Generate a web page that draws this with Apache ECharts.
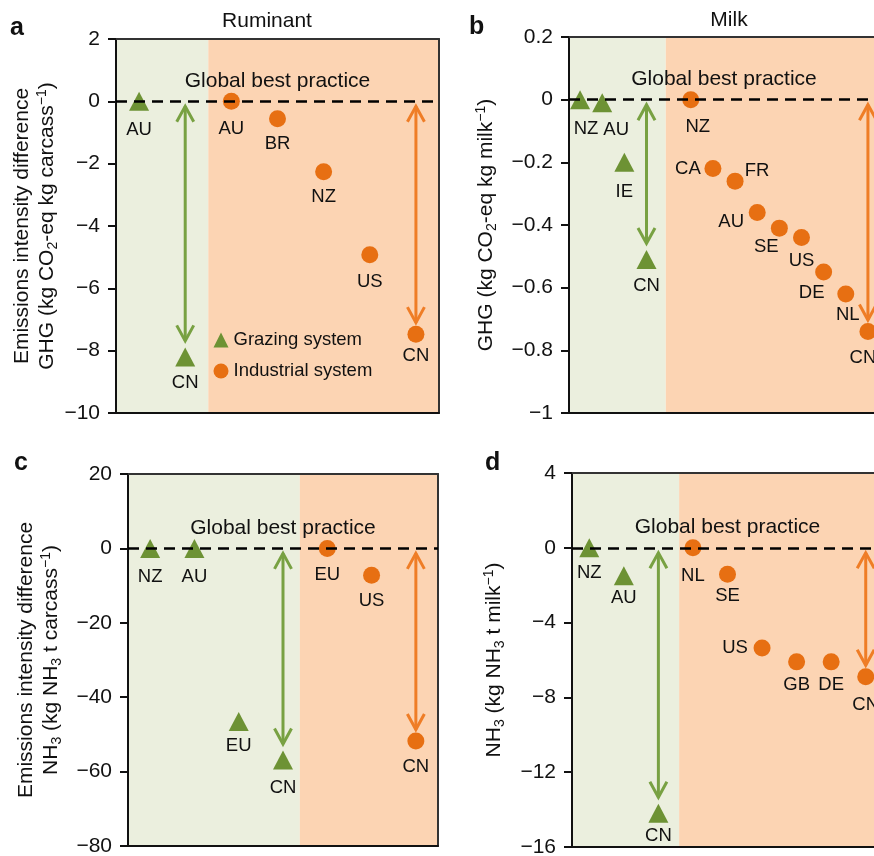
<!DOCTYPE html>
<html>
<head>
<meta charset="utf-8">
<script src="https://cdn.jsdelivr.net/npm/echarts@6/dist/echarts.min.js"></script>
<style>html,body{margin:0;padding:0;background:#fff;}#chart{width:874px;height:856px;}</style>
</head>
<body>
<div id="chart"></div>
<script>
// ---------- DATA ----------
// a  Ruminant, GHG (kg CO2-eq kg carcass-1)
const rumGhgTicks = [2, 0, -2, -4, -6, -8, -10];
const rumGhgGrazCountries = ['AU', 'CN'];
const rumGhgGrazValues = [0, -8.2];
const rumGhgIndCountries = ['AU', 'BR', 'NZ', 'US', 'CN'];
const rumGhgIndValues = [0, -0.56, -2.26, -4.92, -7.47];
// b  Milk, GHG (kg CO2-eq kg milk-1)
const milkGhgTicks = [0.2, 0, -0.2, -0.4, -0.6, -0.8, -1];
const milkGhgGrazCountries = ['NZ', 'AU', 'IE', 'CN'];
const milkGhgGrazValues = [0, -0.01, -0.2, -0.51];
const milkGhgIndCountries = ['NZ', 'CA', 'FR', 'AU', 'SE', 'US', 'DE', 'NL', 'CN'];
const milkGhgIndValues = [0, -0.22, -0.26, -0.36, -0.41, -0.44, -0.55, -0.62, -0.74];
// c  Ruminant, NH3 (kg NH3 t carcass-1)
const rumNh3Ticks = [20, 0, -20, -40, -60, -80];
const rumNh3GrazCountries = ['NZ', 'AU', 'EU', 'CN'];
const rumNh3GrazValues = [0, 0, -46.5, -56.9];
const rumNh3IndCountries = ['EU', 'US', 'CN'];
const rumNh3IndValues = [0, -7.2, -51.8];
// d  Milk, NH3 (kg NH3 t milk-1)
const milkNh3Ticks = [4, 0, -4, -8, -12, -16];
const milkNh3GrazCountries = ['NZ', 'AU', 'CN'];
const milkNh3GrazValues = [0, -1.5, -14.2];
const milkNh3IndCountries = ['NL', 'SE', 'US', 'GB', 'DE', 'CN'];
const milkNh3IndValues = [0, -1.42, -5.36, -6.1, -6.1, -6.9];

const legendNames = ['Grazing system', 'Industrial system'];
const refLineText = 'Global best practice';

// ---------- LAYOUT / STYLE ----------
const FONT = '"Liberation Sans", Arial, Helvetica, sans-serif';
const GREEN = '#6d9234', ORANGE = '#e76f12';
const GREEN_ARROW = '#78a142', ORANGE_ARROW = '#ef7d26';
const GREEN_BG = '#ebefde', ORANGE_BG = '#fcd4b3';
const INK = '#111';

const panels = [
  { grid: { left: 116, top: 39, width: 323, height: 374 }, ticks: rumGhgTicks,
    gc: rumGhgGrazCountries, gv: rumGhgGrazValues, ic: rumGhgIndCountries, iv: rumGhgIndValues,
    slots: 7, gap: 0, boundary: 1.5, nameGap: 56,
    name: '{n|Emissions intensity difference}\n{n|GHG (kg CO}{sub|2}{n|-eq kg carcass}{sup|\u22121}{n|)}',
    gOff: [[0, 29], [0, 26]], iOff: [[0, 28], [0, 25], [0, 25], [0, 27], [0, 22]] },
  { grid: { left: 569, top: 37, width: 310, height: 376 }, ticks: milkGhgTicks,
    gc: milkGhgGrazCountries, gv: milkGhgGrazValues, ic: milkGhgIndCountries, iv: milkGhgIndValues,
    slots: 14, gap: 1, boundary: 3.87, nameGap: 70,
    name: '{n|GHG (kg CO}{sub|2}{n|-eq kg milk}{sup|\u22121}{n|)}',
    gOff: [[6, 29], [14, 27], [0, 30], [0, 26]],
    iOff: [[7, 27], [-25, 0], [22, -10], [-26, 9], [-13, 19], [0, 23], [-12, 21], [2, 21], [-5, 26]] },
  { grid: { left: 128, top: 474, width: 310, height: 372 }, ticks: rumNh3Ticks,
    gc: rumNh3GrazCountries, gv: rumNh3GrazValues, ic: rumNh3IndCountries, iv: rumNh3IndValues,
    slots: 7, gap: 0, boundary: 3.38, nameGap: 64,
    name: '{n|Emissions intensity difference}\n{n|NH}{sub|3}{n| (kg NH}{sub|3}{n| t carcass}{sup|\u22121}{n|)}',
    gOff: [[0, 29], [0, 29], [0, 25], [0, 28]], iOff: [[0, 27], [0, 26], [0, 26]] },
  { grid: { left: 572, top: 473, width: 311, height: 374 }, ticks: milkNh3Ticks,
    gc: milkNh3GrazCountries, gv: milkNh3GrazValues, ic: milkNh3IndCountries, iv: milkNh3IndValues,
    slots: 9, gap: 0, boundary: 2.6, nameGap: 65,
    name: '{n|NH}{sub|3}{n| (kg NH}{sub|3}{n| t milk}{sup|\u22121}{n|)}',
    gOff: [[0, 25], [0, 22], [0, 23]], iOff: [[0, 28], [0, 22], [-27, 0], [0, 23], [0, 23], [0, 28]] }
];

function fmtTick(v) {
  let s = String(Number(v.toFixed(2)));
  if (v < 0) s = '\u2212' + s.replace('-', '');
  return s;
}

function arrowRender(color, inset) {
  return function (params, api) {
    const x = api.value(0);
    const p0 = api.coord([x, api.value(1)]);
    const p1 = api.coord([x, api.value(2)]);
    const cx = p0[0], top = p0[1] + 5, bot = p1[1] - inset;
    const ax = 8.5, ay = 15.5;
    const st = { stroke: color, lineWidth: 3, fill: null, lineJoin: 'miter' };
    return { type: 'group', children: [
      { type: 'line', shape: { x1: cx, y1: top, x2: cx, y2: bot }, style: st },
      { type: 'polyline', shape: { points: [[cx - ax, top + ay], [cx, top], [cx + ax, top + ay]] }, style: st },
      { type: 'polyline', shape: { points: [[cx - ax, bot - ay], [cx, bot], [cx + ax, bot - ay]] }, style: st }
    ] };
  };
}

const grids = [], xAxes = [], yAxes = [], series = [];
panels.forEach((p, i) => {
  grids.push(Object.assign({ containLabel: false, outerBoundsMode: 'none' }, p.grid));
  const xmin = -0.5, xmax = p.slots - 0.5;
  const tmin = Math.min(...p.ticks), tmax = Math.max(...p.ticks);
  const interval = p.ticks[0] - p.ticks[1];
  const xBase = { gridIndex: i, type: 'value', min: xmin, max: xmax, axisTick: { show: false },
    axisLabel: { show: false }, splitLine: { show: false }, z: 6 };
  xAxes.push(Object.assign({}, xBase, { position: 'bottom', axisLine: { show: true, onZero: false, lineStyle: { color: INK, width: 2 } } }));
  xAxes.push(Object.assign({}, xBase, { position: 'top', axisLine: { show: true, onZero: false, lineStyle: { color: '#333', width: 2 } } }));
  yAxes.push({ gridIndex: i, type: 'value', position: 'left', min: tmin, max: tmax, interval: interval, z: 6,
    axisLine: { show: true, onZero: false, lineStyle: { color: INK, width: 2 } },
    axisTick: { show: true, inside: false, length: 8, lineStyle: { color: INK, width: 2 } },
    axisLabel: { fontSize: 21, fontFamily: FONT, color: INK, margin: 16, formatter: fmtTick },
    splitLine: { show: false },
    name: p.name, nameLocation: 'middle', nameRotate: 90, nameGap: p.nameGap,
    nameTextStyle: { fontFamily: FONT, color: INK, rich: {
      n: { fontSize: 21, lineHeight: 25, fontFamily: FONT, color: INK },
      sub: { fontSize: 14, lineHeight: 14, verticalAlign: 'bottom', fontFamily: FONT, color: INK },
      sup: { fontSize: 14, lineHeight: 14, verticalAlign: 'top', fontFamily: FONT, color: INK }
    } } });
  yAxes.push({ gridIndex: i, type: 'value', position: 'right', min: tmin, max: tmax, interval: interval, z: 6,
    axisLine: { show: true, onZero: false, lineStyle: { color: '#333', width: 2 } },
    axisTick: { show: false }, axisLabel: { show: false }, splitLine: { show: false } });

  const xi = 2 * i, yi = 2 * i;
  const nG = p.gv.length;
  const iStart = nG + p.gap;
  const lbl = { show: true, position: 'inside', fontSize: 18.5, fontFamily: FONT, color: INK };

  series.push({
    type: 'scatter', name: legendNames[0], xAxisIndex: xi, yAxisIndex: yi,
    symbol: 'triangle', symbolSize: [20, 19], itemStyle: { color: GREEN, opacity: 1 }, z: 4,
    data: p.gv.map((v, k) => ({ value: [k, v], label: { offset: p.gOff[k] } })),
    label: Object.assign({}, lbl, { formatter: (prm) => p.gc[prm.dataIndex] }),
    markArea: { silent: true, z: 1, data: [
      [{ xAxis: xmin, itemStyle: { color: GREEN_BG } }, { xAxis: p.boundary }],
      [{ xAxis: p.boundary, itemStyle: { color: ORANGE_BG } }, { xAxis: xmax }]
    ] },
    markLine: { silent: true, symbol: 'none', z: 8,
      lineStyle: { color: '#000', width: 2.5, type: [11, 7] },
      label: { show: true, position: 'insideMiddleTop', distance: 10, formatter: refLineText,
        fontSize: 21, fontFamily: FONT, color: INK },
      data: [{ yAxis: 0 }] }
  });
  series.push({
    type: 'scatter', name: legendNames[1], xAxisIndex: xi, yAxisIndex: yi,
    symbol: 'circle', symbolSize: 17, itemStyle: { color: ORANGE, opacity: 1 }, z: 4,
    data: p.iv.map((v, k) => ({ value: [iStart + k, v], label: { offset: p.iOff[k] } })),
    label: Object.assign({}, lbl, { formatter: (prm) => p.ic[prm.dataIndex] })
  });
  series.push({
    type: 'custom', xAxisIndex: xi, yAxisIndex: yi, z: 3, silent: true,
    renderItem: arrowRender(GREEN_ARROW, 16),
    data: [[nG - 1, 0, p.gv[nG - 1]]]
  });
  const nI = p.iv.length;
  series.push({
    type: 'custom', xAxisIndex: xi, yAxisIndex: yi, z: 3, silent: true,
    renderItem: arrowRender(ORANGE_ARROW, 11.5),
    data: [[iStart + nI - 1, 0, p.iv[nI - 1]]]
  });
});

function txt(text, x, y, size, weight, align) {
  return { type: 'text', x: x, y: y, z: 20, silent: true,
    style: { text: text, fontSize: size, fontWeight: weight || 'normal', fontFamily: FONT, fill: INK,
      align: align || 'center', textAlign: align || 'center', verticalAlign: 'middle', textVerticalAlign: 'middle' } };
}

const option = {
  animation: false,
  backgroundColor: '#fff',
  grid: grids, xAxis: xAxes, yAxis: yAxes, series: series,
  legend: { show: true, left: 208.5, top: 325.5, orient: 'vertical', itemWidth: 15, itemHeight: 15, itemGap: 12,
    selectedMode: false, data: legendNames,
    textStyle: { fontSize: 18.5, fontFamily: FONT, color: INK, lineHeight: 16 } },
  graphic: [
    txt('Ruminant', 267, 21, 21),
    txt('Milk', 729, 20, 21),
    txt('a', 10, 28, 25, 'bold', 'left'),
    txt('b', 469, 27, 25, 'bold', 'left'),
    txt('c', 14, 463, 25, 'bold', 'left'),
    txt('d', 485, 463, 25, 'bold', 'left')
  ]
};

const chart = echarts.init(document.getElementById('chart'), null, { renderer: 'canvas' });
chart.setOption(option);
</script>
</body>
</html>
